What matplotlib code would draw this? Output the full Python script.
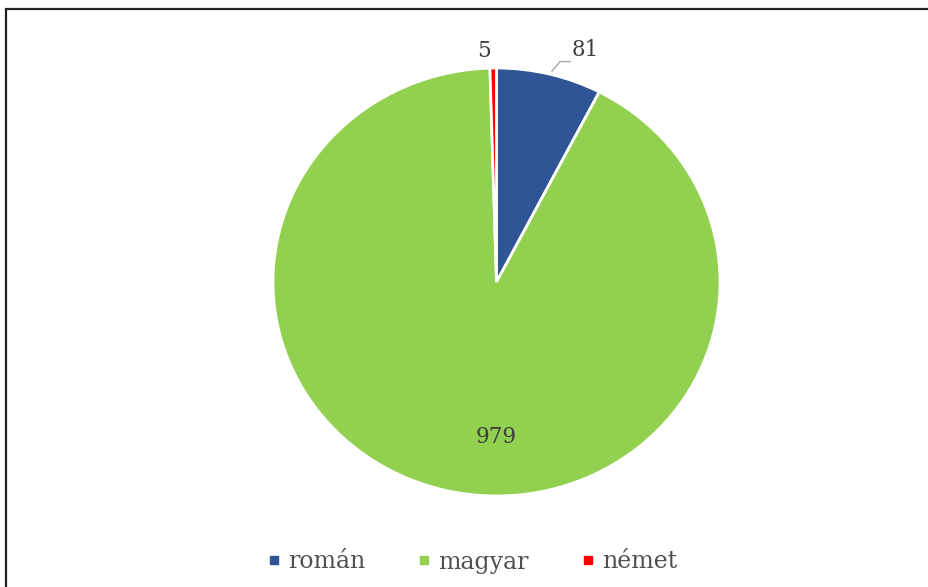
import matplotlib.pyplot as plt
from matplotlib.lines import Line2D
from matplotlib.patches import Rectangle

# data
labels = ['román', 'magyar', 'német']
values = [81, 979, 5]
colors = ['#2F5597', '#92D050', '#FF0000']

plt.rcParams['font.family'] = ['DejaVu Serif']
text_color = '#404040'

fig = plt.figure(figsize=(9.29, 5.87), dpi=100)

# frame (only top and left visible in the original)
fig.patches.append(Rectangle((6.5 / 929, -0.2), 1.2, (587 - 9.5) / 587 + 0.2,
                             transform=fig.transFigure, fill=False,
                             edgecolor='#222222', linewidth=1.6))

ax = fig.add_axes([273 / 929, 91 / 587, 447 / 929, 428 / 587])
wedges, _ = ax.pie(values, colors=colors, startangle=90, counterclock=False,
                   wedgeprops=dict(edgecolor='white', linewidth=2))
ax.set_aspect('auto')
ax.set_xlim(-1, 1)
ax.set_ylim(-1, 1)
ax.axis('off')

# data labels
ax.text(0.395, 1.085, str(values[0]), ha='center', va='center', fontsize=15.5,
        color=text_color, clip_on=False)
ax.text(-0.056, 1.08, str(values[2]), ha='center', va='center', fontsize=15.5,
        color=text_color, clip_on=False)
ax.text(0.0, -0.724, str(values[1]), ha='center', va='center', fontsize=15.5,
        color=text_color)
# leader line for 81
ax.plot([0.248, 0.284, 0.33], [0.985, 1.03, 1.03], color='#A6A6A6',
        linewidth=1, clip_on=False)

handles = [Line2D([], [], linestyle='none', marker='s', markersize=5.5,
                  markerfacecolor=c, markeredgecolor=c) for c in colors]
fig.legend(handles, labels, loc='center', bbox_to_anchor=(0.508, 1 - 562 / 587),
           ncol=3, frameon=False, fontsize=17, handlelength=0.6,
           handletextpad=0.3, columnspacing=2.2, labelcolor='#505050')

fig.savefig('out.png', dpi=100)
